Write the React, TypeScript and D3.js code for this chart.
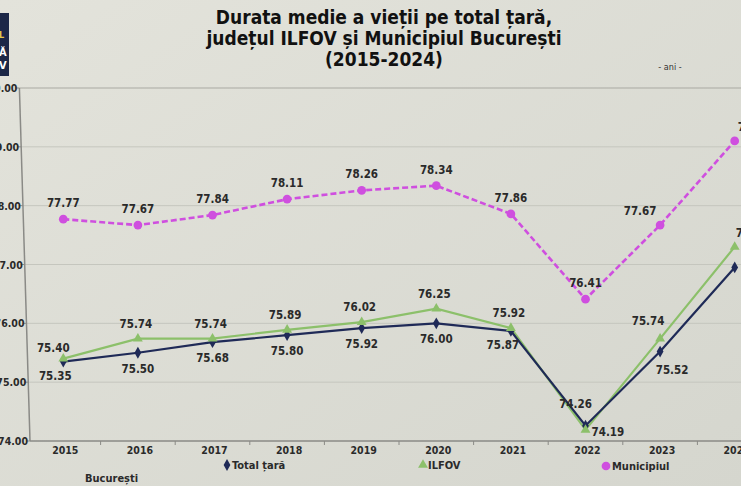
import React from 'react'
import * as d3 from 'd3'

const years = ['2015', '2016', '2017', '2018', '2019', '2020', '2021', '2022', '2023', '2024']
const totalTara = [75.35, 75.5, 75.68, 75.8, 75.92, 76.0, 75.87, 74.26, 75.52, 76.95]
const ilfov = [75.4, 75.74, 75.74, 75.89, 76.02, 76.25, 75.92, 74.19, 75.74, 77.3]
const municipiul = [77.77, 77.67, 77.84, 78.11, 78.26, 78.34, 77.86, 76.41, 77.67, 79.1]
const yTicks = [74, 75, 76, 77, 78, 79, 80]
const titleLines = ['Durata medie a vieții pe total țară,', 'județul ILFOV și Municipiul București', '(2015-2024)']

const W = 741
const H = 486
const FONT = "'Liberation Sans Narrow', 'DejaVu Sans Condensed', 'Arial Narrow', sans-serif"
const NAVY = '#1f2a57'
const GREEN = '#8cc06a'
const MAGENTA = '#cf4fdf'
const INK = '#2a2a2a'

const x = d3.scaleBand().domain(years).range([26, 772])
const y = d3.scaleLinear().domain([74, 80]).range([441, 88])
const cx = (yr: string) => (x(yr) as number) + x.bandwidth() / 2
// the photo leans a little: the value axis drifts left towards the top
const axisX = (py: number) => 30 - (441 - py) * 0.03

const line = d3
  .line<number>()
  .x((_, i) => cx(years[i]))
  .y(v => y(v))

// where each data label sits relative to its point
function labelSpot(kind: string, vals: number[], i: number) {
  const isMin = vals[i] === d3.min(vals)
  const last = i === vals.length - 1
  if (kind === 'total') {
    if (last) return {dx: 8, dy: 16, anchor: 'start'}
    if (isMin) return {dx: -10, dy: -18, anchor: 'middle'}
    if (i === 8) return {dx: 12, dy: 22, anchor: 'middle'}
    if (i === 0 || i === 6) return {dx: -8, dy: 18, anchor: 'middle'}
    return {dx: 0, dy: 20, anchor: 'middle'}
  }
  if (kind === 'ilfov') {
    if (last) return {dx: 1, dy: -10, anchor: 'start'}
    if (isMin) return {dx: 6, dy: 6, anchor: 'start'}
    if (i === 0) return {dx: -10, dy: -7, anchor: 'middle'}
    if (i === 8) return {dx: -12, dy: -14, anchor: 'middle'}
    return {dx: -2, dy: -11, anchor: 'middle'}
  }
  if (last) return {dx: 3, dy: -10, anchor: 'start'}
  if (i === 8) return {dx: -20, dy: -10, anchor: 'middle'}
  return {dx: 0, dy: -12, anchor: 'middle'}
}

function Labels({kind, vals}: {kind: string; vals: number[]}) {
  return (
    <g>
      {vals.map((v, i) => {
        const s = labelSpot(kind, vals, i)
        return (
          <text
            key={i}
            x={cx(years[i]) + s.dx}
            y={y(v) + s.dy}
            textAnchor={s.anchor as any}
            fontSize={11.5}
            fontWeight="bold"
            fill={INK}>
            {v.toFixed(2)}
          </text>
        )
      })}
    </g>
  )
}

const diamond = d3.symbol(d3.symbolDiamond, 40)()
const triangle = d3.symbol(d3.symbolTriangle, 42)()
const circle = d3.symbol(d3.symbolCircle, 60)()

export default function App() {
  return (
    <svg
      width={W}
      height={H}
      style={{position: 'absolute', left: 0, top: 0, fontFamily: FONT}}>
      <defs>
        <linearGradient id="bg" x1="0" x2="1" y1="0" y2="1">
          <stop offset="0%" stopColor="#e3e3db" />
          <stop offset="100%" stopColor="#d5d6ce" />
        </linearGradient>
      </defs>
      <rect width={W} height={H} fill="url(#bg)" />

      {/* logo corner */}
      <rect x={-4} y={13} width={13} height={63} fill="#1c2747" />
      <text x={-1} y={38} fontSize={9} fontWeight="bold" fill="#e3c74a">L</text>
      <text x={-1} y={56} fontSize={11} fontWeight="bold" fill="#ffffff">Ă</text>
      <text x={-1} y={69} fontSize={11} fontWeight="bold" fill="#ffffff">V</text>

      {/* title */}
      {titleLines.map((t, i) => (
        <text
          key={t}
          x={384}
          y={24 + i * 21}
          textAnchor="middle"
          fontSize={19}
          fontWeight="bold"
          fill="#111">
          {t}
        </text>
      ))}
      <text x={670} y={70} textAnchor="middle" fontSize={9} fill="#333">
        - ani -
      </text>

      {/* grid */}
      {yTicks.map(t => (
        <g key={t}>
          <line
            x1={axisX(y(t))}
            x2={W}
            y1={y(t)}
            y2={y(t)}
            stroke={t === 80 ? '#a9a9a2' : t === 74 ? '#8a8a86' : '#c5c6be'}
            strokeWidth={t === 74 ? 1.5 : 1}
          />
          <line x1={axisX(y(t)) - 4} x2={axisX(y(t))} y1={y(t)} y2={y(t)} stroke="#8a8a86" />
          <text
            x={axisX(y(t)) - 2}
            y={y(t) + 4}
            textAnchor="end"
            fontSize={10.5}
            fontWeight="bold"
            fill={INK}>
            {t.toFixed(2)}
          </text>
        </g>
      ))}
      <line x1={axisX(88)} x2={axisX(441)} y1={88} y2={441} stroke="#8a8a86" strokeWidth={1.5} />

      {/* x axis */}
      {years.map(yr => (
        <g key={yr}>
          <line
            x1={(x(yr) as number) + x.bandwidth()}
            x2={(x(yr) as number) + x.bandwidth()}
            y1={441}
            y2={445}
            stroke="#8a8a86"
          />
          <text
            x={cx(yr) + 2}
            y={454}
            textAnchor="middle"
            fontSize={10.5}
            fontWeight="bold"
            fill={INK}>
            {yr}
          </text>
        </g>
      ))}

      {/* series */}
      <path d={line(ilfov) as string} fill="none" stroke={GREEN} strokeWidth={2.2} />
      <path d={line(totalTara) as string} fill="none" stroke={NAVY} strokeWidth={2.2} />
      <path
        d={line(municipiul) as string}
        fill="none"
        stroke={MAGENTA}
        strokeWidth={2.6}
        strokeDasharray="6 3"
      />
      {totalTara.map((v, i) => (
        <path key={i} d={diamond as string} transform={`translate(${cx(years[i])},${y(v)})`} fill={NAVY} />
      ))}
      {ilfov.map((v, i) => (
        <path key={i} d={triangle as string} transform={`translate(${cx(years[i])},${y(v)})`} fill={GREEN} />
      ))}
      {municipiul.map((v, i) => (
        <path key={i} d={circle as string} transform={`translate(${cx(years[i])},${y(v)})`} fill={MAGENTA} />
      ))}
      <Labels kind="total" vals={totalTara} />
      <Labels kind="ilfov" vals={ilfov} />
      <Labels kind="muni" vals={municipiul} />

      {/* legend */}
      <path d={diamond as string} transform="translate(227,465)" fill={NAVY} />
      <text x={232} y={469} fontSize={11} fontWeight="bold" fill={INK}>Total țară</text>
      <path d={triangle as string} transform="translate(423,465)" fill={GREEN} />
      <text x={428} y={469} fontSize={11} fontWeight="bold" fill={INK}>ILFOV</text>
      <path d={circle as string} transform="translate(606,466)" fill={MAGENTA} />
      <text x={612} y={470} fontSize={11} fontWeight="bold" fill={INK}>Municipiul</text>
      <text x={85} y={482} fontSize={11} fontWeight="bold" fill={INK}>București</text>
    </svg>
  )
}
